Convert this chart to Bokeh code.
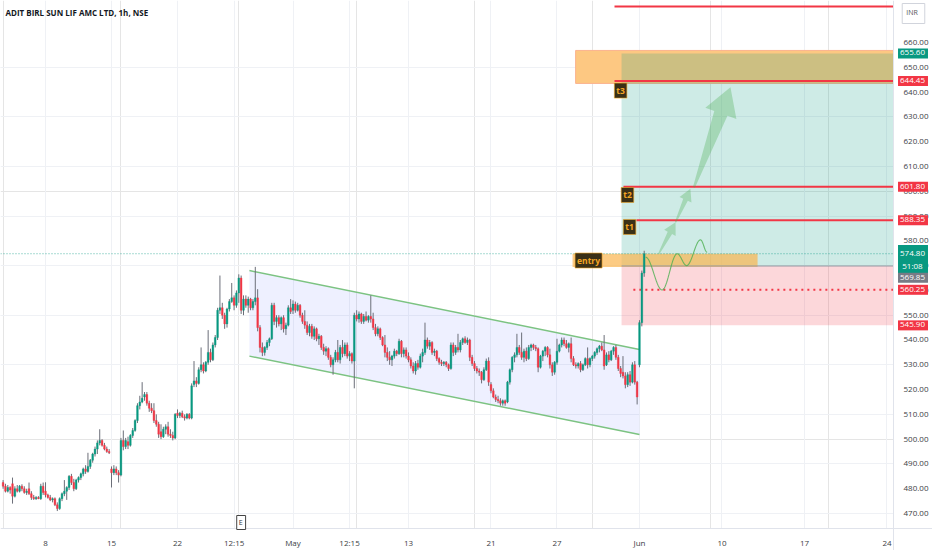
import math
from bokeh.plotting import figure
from bokeh.models import (Range1d, FixedTicker, NumeralTickFormatter, Label, ColumnDataSource,
                          LinearAxis, Grid)
from bokeh.embed import file_html
from bokeh.resources import INLINE

# ---- hourly OHLC, one row per trading day (Apr 3 partial ... Jun 3 partial) ----
opens = [
    482.5, 481, 479, 480.5,
    482, 477, 480, 479, 481, 480, 478.5,
    480, 478, 476.5, 476, 476.5, 476, 481,
    479, 477.5, 476.5, 475.5, 476, 473.5, 472,
    476, 478, 479, 480.5, 485, 482.5, 480,
    483.5, 484.5, 486, 488, 487, 489, 491.5,
    494, 496, 498.5, 499.5, 497.5, 496, 495,
    488, 486.5, 488, 486.5, 485.5, 499.5, 497,
    499, 497.5, 501.5, 503.5, 507.5, 513.5, 515,
    517, 518, 514.5, 512.5, 511.5, 507.5, 506,
    503, 501, 504, 505, 502, 501.5, 500.5,
    510.5, 509.5, 510.5, 509, 508.5, 510, 508.5,
    522, 523.5, 522.5, 528, 530, 527.5, 531,
    535, 532, 538, 541, 552, 553, 550,
    546.5, 552.5, 555.5, 557, 554, 559, 565,
    552, 556.5, 554, 556.5, 553, 555.5, 557,
    545, 537, 535, 537, 539, 540.5, 554,
    547.5, 549, 546.5, 549, 544.5, 546, 553,
    552, 554.5, 552, 554, 550, 547.5, 546,
    543, 545.5, 541.5, 544.5, 540.5, 541.5, 537,
    535.5, 536.5, 533, 530, 532, 535, 532,
    537, 534.5, 538, 533.5, 534.5, 531.5, 550,
    548.5, 550.5, 547.5, 549.5, 548, 549.5, 548.5,
    545, 542.5, 544.5, 541, 538, 535, 533,
    532, 533.5, 535.5, 534.5, 539.5, 534.5, 536,
    533.5, 532, 529.5, 527.5, 530.5, 529, 533.5,
    535, 540, 537.5, 539, 535, 535.5, 532.5,
    531, 530.5, 531, 530, 528.5, 538, 535,
    537, 536, 539, 540.5, 539, 540, 533,
    530.5, 528.5, 527.5, 527, 524, 528, 531.5,
    522, 519.5, 517, 516, 515.5, 514.5, 515.5,
    515, 523, 528, 533, 534, 537, 535,
    533, 535.5, 532.5, 537, 538, 537, 536.5,
    529, 533.5, 535.5, 537, 534, 530, 527,
    531, 535.5, 538, 540, 538.5, 537, 538.5,
    532.5, 530, 529.5, 530.5, 528, 530, 532.5,
    530, 532.5, 533.5, 535, 536.5, 537.5, 536,
    530, 534, 532, 535.5, 537, 533, 528.5,
    527, 525.5, 522, 526, 523, 530, 523,
    530, 547, 567,
]
highs = [
    483.5, 482, 481.5, 481,
    484.5, 481, 481.5, 481.5, 481.8, 481, 480,
    482.5, 479, 477.5, 477, 477, 482, 482.5,
    482.6, 478, 477.5, 476.5, 476.5, 474.5, 476.5,
    478.5, 483.5, 481, 485.5, 486, 484, 484,
    485, 486.5, 488.5, 489.5, 494.5, 492, 494.5,
    497, 499.5, 504, 500, 498.5, 497, 496,
    489, 489.5, 489, 487.5, 500.5, 503.5, 500.5,
    501, 502, 504.5, 508, 514.5, 517.5, 523,
    519, 519, 515.5, 514.5, 514.5, 510, 507,
    506, 505, 506, 507, 504, 503, 510.5,
    512, 511, 511.5, 510, 510.5, 510.5, 522.5,
    531.5, 525, 529, 537, 531, 531.5, 544,
    536.5, 539, 542, 553, 566, 555, 551,
    553, 556.5, 563, 558, 560, 566.5, 566,
    558, 558, 557.5, 557, 556.5, 569.5, 560.5,
    546, 539, 537.5, 540, 541, 555, 555,
    550, 550, 549.5, 550, 547, 554, 556.5,
    556, 555.5, 555, 554.5, 551, 552, 547.5,
    546.5, 546.5, 545.5, 545, 542.5, 542, 538.5,
    537.5, 537, 534, 533, 536, 540, 538,
    540, 539, 539, 535.5, 535, 551, 552,
    551.5, 551, 550.5, 551.5, 550, 558, 551,
    546.5, 545.5, 545, 541.5, 542, 537, 535.5,
    534, 536.5, 536, 540.5, 540, 537, 537,
    535, 533, 531, 531.5, 532, 534.5, 536.5,
    547, 541, 540, 539.5, 536.5, 536, 533,
    532, 531.5, 531.5, 530.5, 539, 539, 538,
    542.5, 540, 541, 541.5, 541, 540.5, 534,
    531.5, 529.5, 528.5, 527.5, 529, 532.5, 533,
    523, 520.5, 518, 517.5, 516.5, 516, 516,
    523.5, 528.5, 533.5, 535, 542.5, 538, 543,
    536.5, 537, 538, 538.5, 538.5, 538, 537,
    534, 536, 537.5, 537.5, 536.5, 531, 531.5,
    540.5, 538.5, 541, 541, 540, 539, 541,
    533.5, 531, 531, 531.5, 530.5, 533, 537,
    533, 534, 535.5, 537, 538, 539, 542,
    535, 535.5, 536, 537.5, 538, 534, 529.5,
    533.5, 527, 527, 527.5, 531, 531.5, 523.5,
    548, 568, 576,
]
lows = [
    480, 478.5, 478.5, 478,
    474, 476.5, 478.5, 478.5, 479, 478, 477.5,
    477.5, 475.5, 475.5, 475.5, 475.8, 475.5, 477.5,
    476.5, 476, 475, 474.5, 473, 471, 471.5,
    475, 477, 475.5, 479.5, 481.5, 479, 479.5,
    482.5, 483.5, 485, 486, 486.5, 488, 490.5,
    493, 494, 497.5, 497, 495.5, 494.5, 494,
    480.5, 485.5, 485.5, 482.5, 485, 495.5, 496,
    496, 497, 500.5, 503, 506.5, 512, 514.5,
    515.5, 513.5, 511, 510.5, 506.5, 505, 500.5,
    500, 500.5, 502, 501, 500.5, 499.5, 500,
    508.5, 508.5, 508.5, 507.5, 508, 508, 508,
    521, 521, 522, 527, 526.5, 527, 530,
    531, 531.5, 537, 540, 550.5, 548.5, 544.5,
    545, 551.5, 555, 552, 553, 555, 550.5,
    550, 553, 551, 552, 552, 554, 543.5,
    535, 533.5, 533.7, 536, 537.5, 540, 546,
    545, 545.5, 544, 543, 542, 545.5, 550.5,
    550.5, 551, 551.5, 549, 546.5, 544.5, 542,
    541.5, 540.5, 540, 539.5, 538, 536, 534,
    533.5, 532, 529, 526, 531, 531, 530.5,
    533, 533.5, 532.5, 531.5, 530.5, 520.5, 547.5,
    547, 546.5, 546.5, 547.5, 547, 547, 544,
    541.5, 541.5, 540, 537.5, 533, 531.5, 530,
    529.5, 532.5, 533.5, 534, 533, 533, 532.5,
    531, 528.5, 526.5, 526, 528, 528.5, 531,
    534, 536.5, 536, 534, 533.5, 531.5, 530,
    529.5, 529.5, 529, 527.5, 528, 533.5, 534,
    535, 535, 538, 538.5, 538, 531.5, 529.5,
    527.5, 526.5, 525.5, 522.5, 523.5, 527.5, 521.5,
    518.5, 516.5, 515, 514.5, 513.5, 513.5, 513.5,
    514.5, 522, 527, 531, 533, 534, 532,
    531, 531.5, 532, 535.5, 536, 535.5, 527,
    528.5, 531.5, 533.5, 533, 528.5, 525.5, 526,
    530, 535, 537, 537.5, 536.5, 535, 531,
    529.5, 528.5, 528.5, 527, 527.5, 529.5, 528.5,
    529, 531.5, 532.5, 534, 535, 535.5, 528,
    529.5, 531, 531.5, 534, 532, 527.5, 525,
    524.5, 520.5, 521, 521.5, 522.5, 522, 514,
    529, 545.5, 565.5,
]
closes = [
    481, 479, 480.5, 479.5,
    477, 480, 479, 481, 480, 478.5, 479,
    478, 476.5, 476, 476.5, 476, 481, 478.5,
    477.5, 476.5, 475.5, 476, 473.5, 472, 476,
    478, 479, 480.5, 485, 482.5, 480, 483.5,
    484.5, 486, 488, 487, 489, 491.5, 494,
    496, 498.5, 499.5, 497.5, 496, 495, 494.5,
    486.5, 488, 486.5, 485.5, 499.5, 497, 499.5,
    497.5, 501.5, 503.5, 507.5, 513.5, 515, 516.5,
    518, 514.5, 512.5, 511.5, 507.5, 506, 502,
    501, 504, 505, 502, 501.5, 500.5, 510,
    509.5, 510.5, 509, 508.5, 510, 508.5, 521.5,
    523.5, 522.5, 528, 530, 527.5, 531, 535,
    532, 538, 541, 552, 553, 550, 546.5,
    552.5, 555.5, 557, 554, 559, 565, 552,
    556.5, 554, 556.5, 553, 555.5, 557, 545,
    537, 535, 537, 539, 540.5, 554, 547.5,
    549, 546.5, 549, 544.5, 546, 553, 551.5,
    554.5, 552, 554, 550, 547.5, 546, 543,
    545.5, 541.5, 544.5, 540.5, 541.5, 537, 535.5,
    536.5, 533, 530, 532, 535, 532, 537,
    534.5, 538, 533.5, 534.5, 531.5, 550, 548.5,
    550.5, 547.5, 549.5, 548, 549.5, 548.5, 545,
    542.5, 544.5, 541, 538, 535, 533, 532,
    533.5, 535.5, 534.5, 539.5, 534.5, 536, 533.5,
    532, 529.5, 527.5, 530.5, 529, 533.5, 535,
    540, 537.5, 539, 535, 535.5, 532.5, 531,
    530.5, 531, 530, 528.5, 538, 535, 537,
    536, 539, 540.5, 539, 540, 533, 530.5,
    528.5, 527.5, 527, 524, 528, 531.5, 523,
    519.5, 517, 516, 515.5, 514.5, 515.5, 514.5,
    523, 528, 533, 534, 537, 535, 533,
    535.5, 532.5, 537, 538, 537, 536.5, 529,
    533.5, 535.5, 537, 534, 530, 527, 531,
    535.5, 538, 540, 538.5, 537, 538.5, 532.5,
    530, 529.5, 530.5, 528, 530, 532.5, 530,
    532.5, 533.5, 535, 536.5, 537.5, 536, 529.5,
    534, 532, 535.5, 537, 533, 528.5, 526.5,
    525.5, 522, 526, 523, 530, 523, 517,
    547, 567, 574.8,
]

# time-axis labels (bar index -> text)
tick_bars = [18, 46, 74, 98, 123, 147, 172, 207, 235, 270, 305, 340, 375]
tick_labels = ["8", "15", "22", "12:15", "May", "12:15", "13", "21", "27", "Jun", "10", "17", "24"]
price_ticks = list(range(470, 661, 10))
grid_prices = list(range(470, 661, 20))

# drawing anchors (bar index, price)
channel_bars = [104.5, 270.0]
channel_upper = [568.0, 536.2]
channel_lower = [533.5, 501.9]

target_zone = (242.9, 643.5, 656.8)     # left bar, bottom, top
entry_zone = (241.6, 320.1, 569.4, 574.8)
position_left = 262.4
position_target, position_entry, position_stop = 655.60, 569.85, 545.90

red_levels = [674.5, 644.45, 601.80, 588.35]
red_level_start = [259.4, 259.4, 263.2, 268.7]
stop_level, stop_level_start = 560.25, 267.4
last_price = 574.80

arrow_tail_bar = [278.2, 285.3, 293.1]
arrow_tail_price = [574.8, 587.5, 601.6]
arrow_tip_bar = [285.3, 291.6, 308.6]
arrow_tip_price = [587.5, 601.0, 642.0]
arrow_size = ["small", "small", "big"]

curve_bar = [272.6, 279.6, 286.0, 290.0, 295.9, 298.7]
curve_price = [573.4, 560.2, 574.8, 570.0, 580.4, 575.4]

note_text = ["entry", "t3", "t2", "t1"]
note_bar = [248.4, 262.0, 264.9, 265.8]
note_price = [572.06, 640.6, 598.5, 585.6]

scale_labels = ["655.60", "644.45", "601.80", "588.35", "574.80\n51:08", "569.85", "560.25", "545.90"]
scale_prices = [655.60, 644.45, 601.80, 588.35, 572.4, 565.1, 560.25, 545.90]
scale_colors = ["#089981", "#f23645", "#f23645", "#f23645", "#089981", "#787b86", "#f23645", "#f23645"]

# ---- layout: the frame fills the canvas, axes sit at fixed positions inside it ----
W, H = 932, 550
PANE_W, PANE_H = 893, 528          # chart pane; price scale and time scale lie beyond
PX_X, PX_Y = 2.357, 2.479          # pixels per bar, pixels per rupee
X_START, Y_END = -1.1, 676.95
X_END = X_START + W / PX_X
Y_START = Y_END - H / PX_Y
FONT = "Open Sans"
UP, DOWN, WICK = "#089981", "#f23645", "#6b6e78"


def bar_at(px):
    return X_START + px / PX_X


def price_at(py):
    return Y_END - py / PX_Y


PANE_RIGHT = bar_at(PANE_W)
PANE_BOTTOM = price_at(PANE_H)

p = figure(width=W, height=H, x_range=Range1d(X_START, X_END), y_range=Range1d(Y_START, Y_END),
           output_backend="svg", toolbar_location=None,
           x_axis_location=None, y_axis_location=None,
           min_border_left=0, min_border_top=0, min_border_right=0, min_border_bottom=0,
           outline_line_color=None, background_fill_color="white", border_fill_color="white")

xaxis = LinearAxis(fixed_location=PANE_BOTTOM, ticker=FixedTicker(ticks=tick_bars),
                   major_label_overrides={b: t for b, t in zip(tick_bars, tick_labels)})
yaxis = LinearAxis(fixed_location=PANE_RIGHT, ticker=FixedTicker(ticks=price_ticks),
                   formatter=NumeralTickFormatter(format="0.00"))
for ax in (xaxis, yaxis):
    ax.axis_line_color = "#e0e3eb"
    ax.major_tick_line_color = None
    ax.minor_tick_line_color = None
    ax.major_tick_out = 0
    ax.major_tick_in = 0
    ax.minor_tick_out = 0
    ax.minor_tick_in = 0
    ax.major_label_text_font = FONT
    ax.major_label_text_font_size = "8px"
    ax.major_label_text_color = "#3b3e45"
xaxis.major_label_standoff = 8
yaxis.major_label_standoff = 10
p.add_layout(xaxis, "below")
p.add_layout(yaxis, "right")

p.add_layout(Grid(dimension=0, ticker=FixedTicker(ticks=tick_bars), grid_line_color="#eff1f5"))
p.add_layout(Grid(dimension=1, ticker=FixedTicker(ticks=grid_prices), grid_line_color="#eff1f5"))

# keep the scale strips clean of grid lines
p.quad(left=PANE_RIGHT, right=X_END + 5, bottom=Y_START - 5, top=Y_END + 5,
       fill_color="white", line_color=None)
p.quad(left=X_START - 5, right=PANE_RIGHT, bottom=Y_START - 5, top=PANE_BOTTOM,
       fill_color="white", line_color=None)

# descending channel
p.patch(x=[channel_bars[0], channel_bars[1], channel_bars[1], channel_bars[0]],
        y=[channel_upper[0], channel_upper[1], channel_lower[1], channel_lower[0]],
        fill_color="#3d5afe", fill_alpha=0.09, line_color=None)
p.line(channel_bars, channel_upper, line_color="#7cc382", line_width=1.5)
p.line(channel_bars, channel_lower, line_color="#7cc382", line_width=1.5)

# target zone, long-position zones, entry zone
p.quad(left=target_zone[0], right=PANE_RIGHT, bottom=target_zone[1], top=target_zone[2],
       fill_color="#fdc882", line_color="#fbb38e", line_width=1)
p.quad(left=position_left, right=PANE_RIGHT, bottom=position_entry, top=position_target,
       fill_color="#089981", fill_alpha=0.2, line_color=None)
p.quad(left=position_left, right=PANE_RIGHT, bottom=position_stop, top=position_entry,
       fill_color="#f23645", fill_alpha=0.2, line_color=None)
p.quad(left=entry_zone[0], right=entry_zone[1], bottom=entry_zone[2], top=entry_zone[3],
       fill_color="#fbb54f", fill_alpha=0.7, line_color=None)
p.segment(x0=position_left, x1=PANE_RIGHT, y0=position_entry, y1=position_entry,
          line_color="#9598a1", line_width=1)

# horizontal levels
for lvl, start in zip(red_levels, red_level_start):
    p.segment(x0=start, x1=PANE_RIGHT, y0=lvl, y1=lvl, line_color="#f23645", line_width=2)
p.segment(x0=stop_level_start, x1=PANE_RIGHT, y0=stop_level, y1=stop_level,
          line_color="#f23645", line_width=2, line_dash="2 4")
p.segment(x0=X_START, x1=PANE_RIGHT, y0=last_price, y1=last_price,
          line_color="#089981", line_alpha=0.7, line_width=1, line_dash="1 2")

# candles
bars = list(range(len(closes)))
colors = [UP if c >= o else DOWN for o, c in zip(opens, closes)]
src = ColumnDataSource(dict(
    x=bars, high=highs, low=lows,
    top=[max(o, c) for o, c in zip(opens, closes)],
    bottom=[min(o, c) for o, c in zip(opens, closes)],
    color=colors))
p.segment(x0="x", x1="x", y0="low", y1="high", source=src, line_color=WICK, line_width=1)
p.vbar(x="x", width=0.72, top="top", bottom="bottom", source=src,
       fill_color="color", line_color="color", line_width=0.4)


# projected path arrows
def arrow_shape(x0, y0, x1, y1, tail_w, neck_w, head_w, head_len):
    ax0, ay0, ax1, ay1 = x0 * PX_X, y0 * PX_Y, x1 * PX_X, y1 * PX_Y
    dx, dy = ax1 - ax0, ay1 - ay0
    length = math.hypot(dx, dy)
    ux, uy = dx / length, dy / length
    nx, ny = -uy, ux
    bx, by = ax1 - ux * head_len, ay1 - uy * head_len
    pts = [(ax0 + nx * tail_w / 2, ay0 + ny * tail_w / 2),
           (bx + nx * neck_w / 2, by + ny * neck_w / 2),
           (bx + nx * head_w / 2, by + ny * head_w / 2),
           (ax1, ay1),
           (bx - nx * head_w / 2, by - ny * head_w / 2),
           (bx - nx * neck_w / 2, by - ny * neck_w / 2),
           (ax0 - nx * tail_w / 2, ay0 - ny * tail_w / 2)]
    return [q[0] / PX_X for q in pts], [q[1] / PX_Y for q in pts]


sizes = {"small": (1.5, 5, 13, 12), "big": (2, 14, 33, 28)}
axs, ays = [], []
for x0, y0, x1, y1, s in zip(arrow_tail_bar, arrow_tail_price, arrow_tip_bar, arrow_tip_price, arrow_size):
    xs_, ys_ = arrow_shape(x0, y0, x1, y1, *sizes[s])
    axs.append(xs_)
    ays.append(ys_)
p.patches(axs, ays, fill_color="#4caf50", fill_alpha=0.32, line_color=None)

# curved path
cx, cy = [], []
for i in range(len(curve_bar) - 1):
    for k in range(21):
        t = k / 20
        cx.append(curve_bar[i] + (curve_bar[i + 1] - curve_bar[i]) * t)
        cy.append(curve_price[i] + (curve_price[i + 1] - curve_price[i]) * (1 - math.cos(math.pi * t)) / 2)
p.line(cx, cy, line_color="#4caf50", line_alpha=0.8, line_width=1.1)

# text notes on the chart
for txt, bx, py in zip(note_text, note_bar, note_price):
    p.add_layout(Label(x=bx, y=py, text=txt, text_align="center", text_baseline="middle",
                       text_font=FONT, text_font_size="8.5px", text_font_style="bold",
                       text_color="#f5a623", background_fill_color="#3a3017",
                       border_line_color="#f5a623", border_line_alpha=0.6, padding=2))

# price-scale markers
for txt, py, col in zip(scale_labels, scale_prices, scale_colors):
    p.add_layout(Label(x=bar_at(912.5), y=py, text=txt, text_align="center", text_baseline="middle",
                       text_font=FONT, text_font_size="8px", text_color="white",
                       background_fill_color=col, padding=(2, 3, 2, 3)))

p.add_layout(Label(x=bar_at(913), y=price_at(13), text="INR", text_align="center",
                   text_baseline="middle", text_font=FONT, text_font_size="7px",
                   text_color="#555", background_fill_color="white",
                   border_line_color="#d1d4dc", padding=(4, 7, 4, 7)))

# earnings marker
p.add_layout(Label(x=101, y=price_at(522), text="E", text_align="center", text_baseline="middle",
                   text_font=FONT, text_font_size="7px", text_color="#333",
                   background_fill_color="white", border_line_color="#444", padding=(2, 3, 2, 3)))

# symbol header
p.add_layout(Label(x=bar_at(5), y=price_at(12), text="ADIT BIRL SUN LIF AMC LTD, 1h, NSE",
                   text_align="left", text_baseline="middle", text_font=FONT,
                   text_font_size="8px", text_font_style="bold", text_color="#131722"))

open("out.html", "w").write(file_html(p, INLINE))
